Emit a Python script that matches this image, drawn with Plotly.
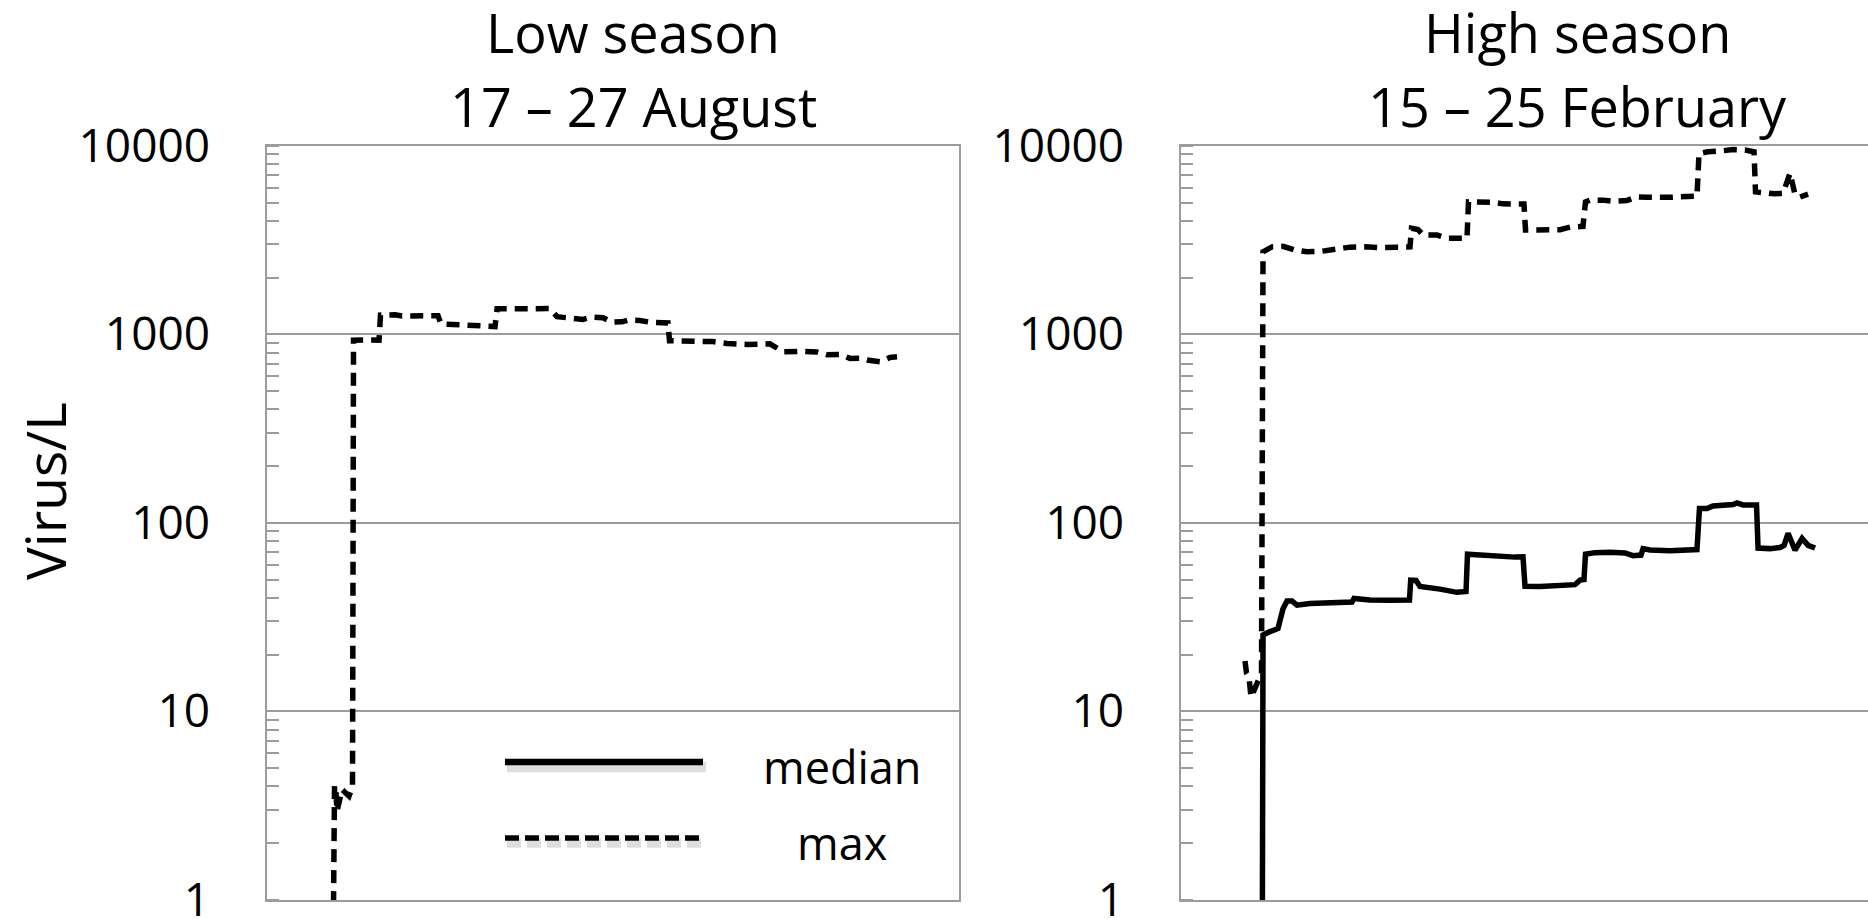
import plotly.graph_objects as go

# ---- data: virus concentration (Virus/L) over a 10-day window, x in days ----
low_max_day = [0.000, 0.009, 0.018, 0.044, 0.062, 0.151, 0.275, 0.337, 0.355, 0.577,
               0.808, 0.834, 1.092, 1.216, 1.447, 1.624, 1.855, 1.909, 2.122, 2.281,
               2.512, 2.672, 2.867, 2.903, 3.187, 3.488, 3.666, 3.843, 3.967, 4.198,
               4.429, 4.589, 4.784, 4.944, 5.121, 5.228, 5.441, 5.618, 5.849, 5.938,
               5.965, 6.329, 6.737, 6.986, 7.341, 7.749, 7.980, 8.282, 8.584, 8.761,
               8.992, 9.170, 9.347, 9.471, 9.702, 9.880, 10.004]
low_max_val = [0.95, 2.9, 4.05, 3.7, 2.95, 3.85, 3.55, 4.0, 930, 935,
               930, 1265, 1270, 1250, 1245, 1260, 1255, 1135, 1125, 1110,
               1105, 1095, 1100, 1365, 1365, 1360, 1375, 1370, 1240, 1210,
               1200, 1235, 1225, 1160, 1165, 1190, 1185, 1160, 1150, 1150,
               925, 918, 915, 895, 884, 890, 808, 812, 805, 780,
               782, 745, 748, 730, 715, 754, 760]

high_max_day = [0.000, 0.027, 0.071, 0.089, 0.107, 0.293, 0.320, 0.479, 0.675, 0.888,
                1.101, 1.367, 1.616, 1.864, 2.130, 2.397, 2.698, 2.929, 2.956, 3.071,
                3.160, 3.409, 3.586, 3.817, 3.941, 3.968, 4.172, 4.403, 4.580, 4.829,
                4.953, 4.980, 5.237, 5.361, 5.592, 5.770, 6.000, 6.045, 6.125, 6.356,
                6.533, 6.782, 6.959, 7.137, 7.314, 7.545, 7.722, 8.024, 8.060, 8.220,
                8.468, 8.664, 8.877, 9.037, 9.063, 9.232, 9.410, 9.552, 9.676, 9.765,
                9.854, 9.996]
high_max_val = [18.5, 16, 15.2, 14, 11.9, 15.9, 2740, 2910, 2930, 2800,
                2740, 2760, 2820, 2900, 2910, 2880, 2900, 2910, 3650, 3600,
                3360, 3360, 3230, 3210, 3230, 5040, 5040, 5020, 4920, 4900,
                4910, 3575, 3570, 3575, 3590, 3700, 3740, 5040, 5150, 5150,
                5080, 5130, 5360, 5330, 5300, 5330, 5360, 5400, 9100, 9300,
                9400, 9550, 9500, 9300, 5700, 5590, 5560, 5600, 7150, 5500,
                5350, 5540]

high_med_day = [0.307, 0.320, 0.444, 0.586, 0.675, 0.746, 0.834, 0.923, 1.154, 1.420,
                1.775, 1.900, 1.935, 2.219, 2.574, 2.920, 2.942, 3.036, 3.107, 3.231,
                3.462, 3.764, 3.924, 3.950, 4.172, 4.438, 4.580, 4.793, 4.935, 4.971,
                5.237, 5.450, 5.681, 5.858, 5.947, 6.018, 6.045, 6.214, 6.480, 6.746,
                6.888, 7.030, 7.066, 7.190, 7.545, 7.811, 8.024, 8.068, 8.202, 8.308,
                8.521, 8.664, 8.735, 8.842, 9.081, 9.108, 9.321, 9.499, 9.570, 9.641,
                9.765, 9.890, 9.996, 10.120]
high_med_val = [0.5, 25.4, 26.5, 27.5, 35, 38.5, 38.5, 36.6, 37.3, 37.5,
                38.0, 38.0, 39.7, 39.0, 38.9, 39.0, 49.7, 49.5, 46, 45.7,
                44.5, 42.8, 43.2, 68.2, 67.5, 66.5, 65.5, 65.8, 66, 46.1,
                46, 46.3, 46.0, 47, 49.7, 50, 68.2, 69.5, 69.8, 69.3,
                67, 67.5, 73, 71.8, 71.2, 71.6, 72.2, 119, 119, 123,
                124, 125, 127.5, 124.5, 124.5, 73.5, 73, 74, 76, 88,
                71.6, 82.7, 76, 73.5]

panel_titles = [("Low season", "17 – 27 August"), ("High season", "15 – 25 February")]
y_ticks = [1, 10, 100, 1000, 10000]
y_title = "Virus/L"
legend_labels = ["median", "max"]

# ---- styling ----
FONT = "Open Sans"
GRID = "#9c9c9c"
W, H = 1868, 919
LINE_W = 5.5
DASH = "13px,8px"

fig = go.Figure()

fig.add_trace(go.Scatter(x=low_max_day, y=low_max_val, mode="lines",
                         line=dict(color="black", width=LINE_W, dash=DASH),
                         xaxis="x", yaxis="y", showlegend=False, name="max"))
fig.add_trace(go.Scatter(x=high_max_day, y=high_max_val, mode="lines",
                         line=dict(color="black", width=LINE_W, dash=DASH),
                         xaxis="x2", yaxis="y2", showlegend=False, name="max"))
fig.add_trace(go.Scatter(x=high_med_day, y=high_med_val, mode="lines",
                         line=dict(color="black", width=LINE_W),
                         xaxis="x2", yaxis="y2", showlegend=False, name="median"))

def px_x(v):
    return v / W

def px_y(v):
    return (H - v) / H

y_dom = [px_y(900), px_y(145.7)]

def xaxis_cfg(domain, rng, mirror):
    return dict(domain=domain, range=rng, showgrid=False, zeroline=False,
                showticklabels=False, ticks="", showline=True, linecolor=GRID,
                linewidth=1.5, mirror=mirror, fixedrange=True, automargin=False)

def yaxis_cfg(anchor, mirror):
    return dict(domain=y_dom, type="log", range=[-0.0005, 4.0005], anchor=anchor,
                tickvals=y_ticks, ticktext=[str(t) for t in y_ticks],
                tickfont=dict(family=FONT, size=46, color="black"),
                ticks="", ticklabelstandoff=46, ticklabeloverflow="allow",
                automargin=False,
                showgrid=True, gridcolor=GRID, gridwidth=1.5,
                showline=True, linecolor=GRID, linewidth=1.5, mirror=mirror,
                zeroline=False, fixedrange=True,
                minor=dict(ticks="inside", ticklen=12, tickcolor=GRID,
                           tickwidth=1.5, dtick="D1", showgrid=False))

fig.update_layout(
    width=W, height=H, autosize=False,
    margin=dict(l=0, r=0, t=0, b=0, pad=0, autoexpand=False),
    paper_bgcolor="white", plot_bgcolor="white",
    showlegend=False,
    xaxis=xaxis_cfg([px_x(267), px_x(959)], [-1.181, 11.104], True),
    yaxis=yaxis_cfg("x", True),
    xaxis2=xaxis_cfg([px_x(1181), 1.0], [-1.136, 11.06], True),
    yaxis2=yaxis_cfg("x2", False),
)

annotations = []
for (line1, line2), cx in zip(panel_titles, [633, 1577]):
    annotations.append(dict(text=line1, x=px_x(cx), y=px_y(32.5), xref="paper", yref="paper",
                            xanchor="center", yanchor="middle", showarrow=False,
                            font=dict(family=FONT, size=54, color="black")))
    annotations.append(dict(text=line2, x=px_x(cx), y=px_y(106.5), xref="paper", yref="paper",
                            xanchor="center", yanchor="middle", showarrow=False,
                            font=dict(family=FONT, size=54, color="black")))

annotations.append(dict(text=y_title, x=px_x(44), y=px_y(491), xref="paper", yref="paper",
                        xanchor="center", yanchor="middle", showarrow=False, textangle=-90,
                        font=dict(family=FONT, size=55, color="black")))

# legend box drawn inside the low-season panel
legend_rows = [(legend_labels[0], 762, None, 6.5), (legend_labels[1], 838, "14px,6px", 5.5)]
shapes = []
for label, yy, dash, lw in legend_rows:
    shapes.append(dict(type="line", xref="paper", yref="paper",
                       x0=px_x(507), x1=px_x(706), y0=px_y(yy + 5), y1=px_y(yy + 5),
                       line=dict(color="rgba(0,0,0,0.13)", width=lw + 4, dash=dash)))
    shapes.append(dict(type="line", xref="paper", yref="paper",
                       x0=px_x(505), x1=px_x(703), y0=px_y(yy), y1=px_y(yy),
                       line=dict(color="black", width=lw, dash=dash)))
    annotations.append(dict(text=label, x=px_x(842), y=px_y(yy + 4), xref="paper", yref="paper",
                            xanchor="center", yanchor="middle", showarrow=False,
                            font=dict(family=FONT, size=45, color="black")))

fig.update_layout(annotations=annotations, shapes=shapes)

fig.write_html("out.html", config={"displayModeBar": False})
